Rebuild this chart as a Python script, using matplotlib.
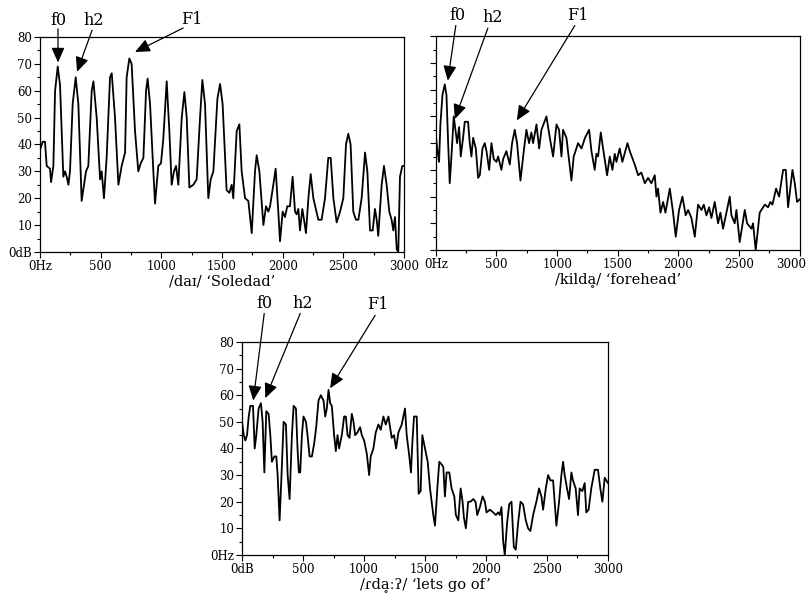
import matplotlib
matplotlib.use('Agg')
import matplotlib.pyplot as plt
import matplotlib.transforms as mtransforms
from matplotlib.ticker import MultipleLocator

plt.rcParams['font.family'] = ['DejaVu Serif', 'DejaVu Sans']

# panel 1: /daɪ/ 'Soledad'
hz1 = [0, 22, 41, 55, 82, 91, 110, 124, 146, 165, 192, 206, 220, 234, 247, 269, 294, 316, 343,
       379, 398, 426, 440, 467, 495, 508, 527, 549, 577, 591, 618, 646, 673, 701, 714, 736, 755,
       783, 810, 830, 852, 874, 887, 907, 934, 948, 975, 997, 1016, 1044, 1066, 1085, 1104, 1121,
       1140, 1168, 1190, 1209, 1231, 1264, 1291, 1319, 1338, 1360, 1387, 1407, 1429, 1462, 1484,
       1505, 1538, 1560, 1580, 1593, 1621, 1643, 1662, 1690, 1717, 1745, 1772, 1786, 1808, 1841,
       1863, 1882, 1896, 1923, 1942, 1964, 1978, 2000, 2019, 2038, 2060, 2082, 2102, 2115, 2129,
       2143, 2162, 2176, 2192, 2212, 2231, 2253, 2294, 2321, 2349, 2376, 2396, 2418, 2445, 2473,
       2500, 2522, 2541, 2560, 2582, 2604, 2624, 2651, 2679, 2698, 2720, 2742, 2761, 2775, 2788,
       2816, 2835, 2857, 2879, 2898, 2912, 2926, 2940, 2953, 2967, 2986, 3000]
db1 = [38, 41, 41, 32, 31, 26, 32, 60, 69, 62, 28, 30, 28, 25, 30, 55, 65, 55, 19,
       30, 32, 60, 63.5, 50, 27, 30, 20, 35, 65, 66.5, 50, 25, 32, 37, 65, 72, 70,
       45, 30, 33, 35, 60, 64.5, 55, 30, 18, 32, 33, 42, 63.5, 45, 25, 30, 32,
       25, 50, 59.5, 50, 24, 25, 27, 50, 64, 55, 20, 27, 30, 57, 62.5,
       55, 23, 22, 25, 20, 45, 47.5, 30, 20, 19, 7, 30, 36, 30, 10,
       17, 15, 17, 25, 31, 15, 4, 15, 13, 17, 17, 28, 15, 14, 16,
       8, 16, 12, 7, 20, 29, 20, 12, 12, 20, 35, 35, 20, 11, 15,
       20, 40, 44, 40, 15, 12, 12, 20, 37, 30, 8, 8, 16, 12, 6,
       25, 32, 25, 15, 12, 8, 13, 1, 0, 28, 32, 32]

# panel 2: /kildḁ/ 'forehead'
hz2 = [0, 11, 27, 38, 55, 74, 88, 102, 115, 129, 148, 176, 192, 206, 225, 239, 266, 280, 294,
       308, 330, 349, 363, 385, 404, 418, 440, 459, 478, 500, 514, 541, 555, 582, 610, 629, 651,
       670, 698, 720, 747, 769, 788, 802, 830, 852, 871, 912, 940, 967, 995, 1016, 1036, 1049,
       1077, 1118, 1137, 1173, 1201, 1230, 1264, 1283, 1310, 1324, 1338, 1360, 1379, 1412, 1434,
       1456, 1475, 1489, 1516, 1538, 1580, 1599, 1640, 1668, 1695, 1723, 1750, 1777, 1805, 1819,
       1832, 1852, 1874, 1893, 1929, 1956, 1978, 2005, 2033, 2060, 2080, 2107, 2135, 2162, 2190,
       2209, 2231, 2253, 2272, 2299, 2327, 2346, 2368, 2423, 2437, 2464, 2478, 2505, 2547, 2566,
       2602, 2615, 2637, 2670, 2712, 2739, 2758, 2775, 2805, 2830, 2863, 2885, 2904, 2940, 2959,
       2978, 3000]
db2 = [43.5, 38, 33, 47, 58, 62, 58, 40, 25, 35, 50, 40, 46, 35, 42, 48, 48, 40, 35,
       42, 38, 27, 28, 38, 40, 37, 30, 40, 34, 33, 35, 30, 34, 37, 32, 40, 45,
       40, 26, 35, 45, 40, 44, 40, 47, 38, 45, 50, 42, 35, 47, 45, 35, 45,
       42, 26, 35, 40, 38, 42, 45, 37, 30, 36, 35, 44, 38, 28, 35,
       30, 36, 33, 38, 33, 40, 37, 32, 28, 29, 25, 27, 25, 28, 20,
       23, 14, 18, 14, 23, 14, 5, 15, 20, 13, 15, 12, 5, 17, 15,
       17, 13, 16, 12, 18, 10, 14, 8, 20, 13, 10, 15, 3, 15, 10,
       8, 10, 0, 14, 17, 16, 18, 17, 23, 20, 30, 30, 16, 30, 25,
       18, 19]

# panel 3: /ɾdḁːʔ/ 'lets go of'
hz3 = [0, 14, 27, 41, 55, 68, 90, 104, 117, 136, 155, 169, 183, 199, 218, 232, 245, 265, 281,
       292, 308, 322, 341, 360, 374, 390, 409, 423, 442, 455, 466, 477, 491, 504, 524, 537, 554,
       573, 592, 608, 627, 646, 668, 682, 695, 709, 723, 736, 755, 769, 783, 796, 818, 837, 851,
       865, 881, 900, 914, 927, 946, 968, 982, 1001, 1023, 1042, 1055, 1077, 1096, 1118, 1137,
       1159, 1178, 1200, 1227, 1246, 1263, 1282, 1309, 1336, 1350, 1369, 1385, 1396, 1410, 1432,
       1448, 1464, 1478, 1500, 1522, 1541, 1568, 1582, 1601, 1617, 1636, 1650, 1663, 1677, 1699,
       1718, 1740, 1753, 1773, 1792, 1808, 1819, 1835, 1854, 1873, 1895, 1914, 1928, 1950, 1972,
       1991, 2004, 2032, 2059, 2081, 2100, 2113, 2127, 2141, 2154, 2173, 2190, 2209, 2228, 2244,
       2263, 2283, 2304, 2326, 2345, 2364, 2386, 2413, 2435, 2454, 2468, 2490, 2509, 2528, 2550,
       2563, 2577, 2599, 2618, 2632, 2645, 2664, 2681, 2700, 2713, 2735, 2754, 2768, 2790, 2809,
       2822, 2841, 2863, 2891, 2918, 2937, 2954, 2973, 3000]
db3 = [50, 45, 43, 45, 52, 56, 56, 40, 45, 55, 57, 50, 31, 54, 53, 45, 35, 37, 37,
       30, 13, 28, 50, 49, 30, 21, 45, 56, 55, 40, 31, 31, 45, 52, 50, 45, 37,
       37, 42, 48, 58, 60, 58, 52, 55, 62, 57, 56, 45, 39, 45, 40, 45, 52, 52,
       45, 44, 53, 50, 45, 46, 48, 45, 43, 38, 30, 37, 40, 46, 49, 47,
       52, 49, 52, 44, 45, 40, 46, 49, 55, 45, 38, 31, 42, 52, 52,
       23, 24, 45, 40, 35, 25, 15, 11, 25, 35, 34, 33, 22, 31, 31,
       25, 22, 15, 13, 25, 20, 14, 10, 20, 20, 21, 20, 15, 18, 22,
       20, 16, 17, 16, 15, 16, 15, 18, 5, 0, 12, 19, 20, 3, 2,
       12, 20, 19, 13, 10, 9, 15, 20, 25, 22, 17, 25, 30, 28, 28,
       20, 11, 20, 30, 35, 30, 25, 21, 31, 28, 25, 15, 25, 24, 27,
       16, 17, 25, 32, 32, 25, 20, 29, 27]

titles = ["/daɪ/ \u2018Soledad\u2019", "/kilda\u0325/ \u2018forehead\u2019", "/ɾda\u0325ːʔ/ \u2018lets go of\u2019"]
xticklabels = [["0Hz", "500", "1000", "1500", "2000", "2500", "3000"],
               ["0Hz", "500", "1000", "1500", "2000", "2500", "3000"],
               ["0dB", "500", "1000", "1500", "2000", "2500", "3000"]]
yticklabels = [["0dB", "10", "20", "30", "40", "50", "60", "70", "80"],
               None,
               ["0Hz", "10", "20", "30", "40", "50", "60", "70", "80"]]

# annotation positions: (label, text centre, arrow tail, arrow tip)
notes = [
    [("f0", (148, 86), (148, 83), (148, 70.5)),
     ("h2", (445, 86), (429, 82.5), (305, 67)),
     ("F1", (1253, 86.5), (1179, 83.3), (783, 74.4))],
    [("f0", (181, 87.7), (165, 84), (99, 63.4)),
     ("h2", (470, 87), (429, 83), (157, 49)),
     ("F1", (1171, 87.7), (1146, 84), (668, 48.5))],
    [("f0", (182, 94.5), (182, 90.7), (92, 58)),
     ("h2", (493, 94.5), (477, 90.7), (191, 58.9)),
     ("F1", (1115, 94), (1091, 90), (722, 62.6))],
]

fig = plt.figure(figsize=(8.07, 5.94), dpi=100)
rects = [[0.0496, 0.5758, 0.451, 0.362],
         [0.540, 0.579, 0.451, 0.360],
         [0.2999, 0.0657, 0.4535, 0.3586]]
series = [(hz1, db1), (hz2, db2), (hz3, db3)]

for i, (rect, (hz, db)) in enumerate(zip(rects, series)):
    ax = fig.add_axes(rect)
    ax.plot(hz, db, color='black', lw=1.3)
    ax.set_xlim(0, 3000)
    ax.set_ylim(0, 80)
    ax.set_xticks(range(0, 3001, 500))
    ax.set_xticklabels(xticklabels[i], fontsize=8.5)
    ax.set_yticks(range(0, 81, 10))
    if yticklabels[i] is None:
        ax.set_yticklabels([])
    else:
        ax.set_yticklabels(yticklabels[i], fontsize=8.5)
    ax.xaxis.set_minor_locator(MultipleLocator(250))
    ax.yaxis.set_minor_locator(MultipleLocator(5))
    ax.tick_params(which='major', length=4, width=0.8, pad=1.5)
    ax.tick_params(which='minor', length=2.5, width=0.8)
    for s in ax.spines.values():
        s.set_linewidth(0.9)
    ax.set_xlabel(titles[i], fontsize=10.5, labelpad=1)
    if i == 1:
        # last label sits against the right edge of the page
        lab = ax.get_xticklabels()[-1]
        lab.set_transform(lab.get_transform() +
                          mtransforms.ScaledTranslation(-9 / 100, 0, fig.dpi_scale_trans))
    for label, txy, tail, tip in notes[i]:
        ax.text(txy[0], txy[1], label, fontsize=11.5,
                ha='center', va='center', clip_on=False)
        ax.annotate('', xy=tip, xytext=tail, annotation_clip=False,
                    arrowprops=dict(arrowstyle='-|>,head_length=0.9,head_width=0.4',
                                    color='black', lw=0.9, shrinkA=0, shrinkB=0))

fig.savefig('out.png', dpi=100)
